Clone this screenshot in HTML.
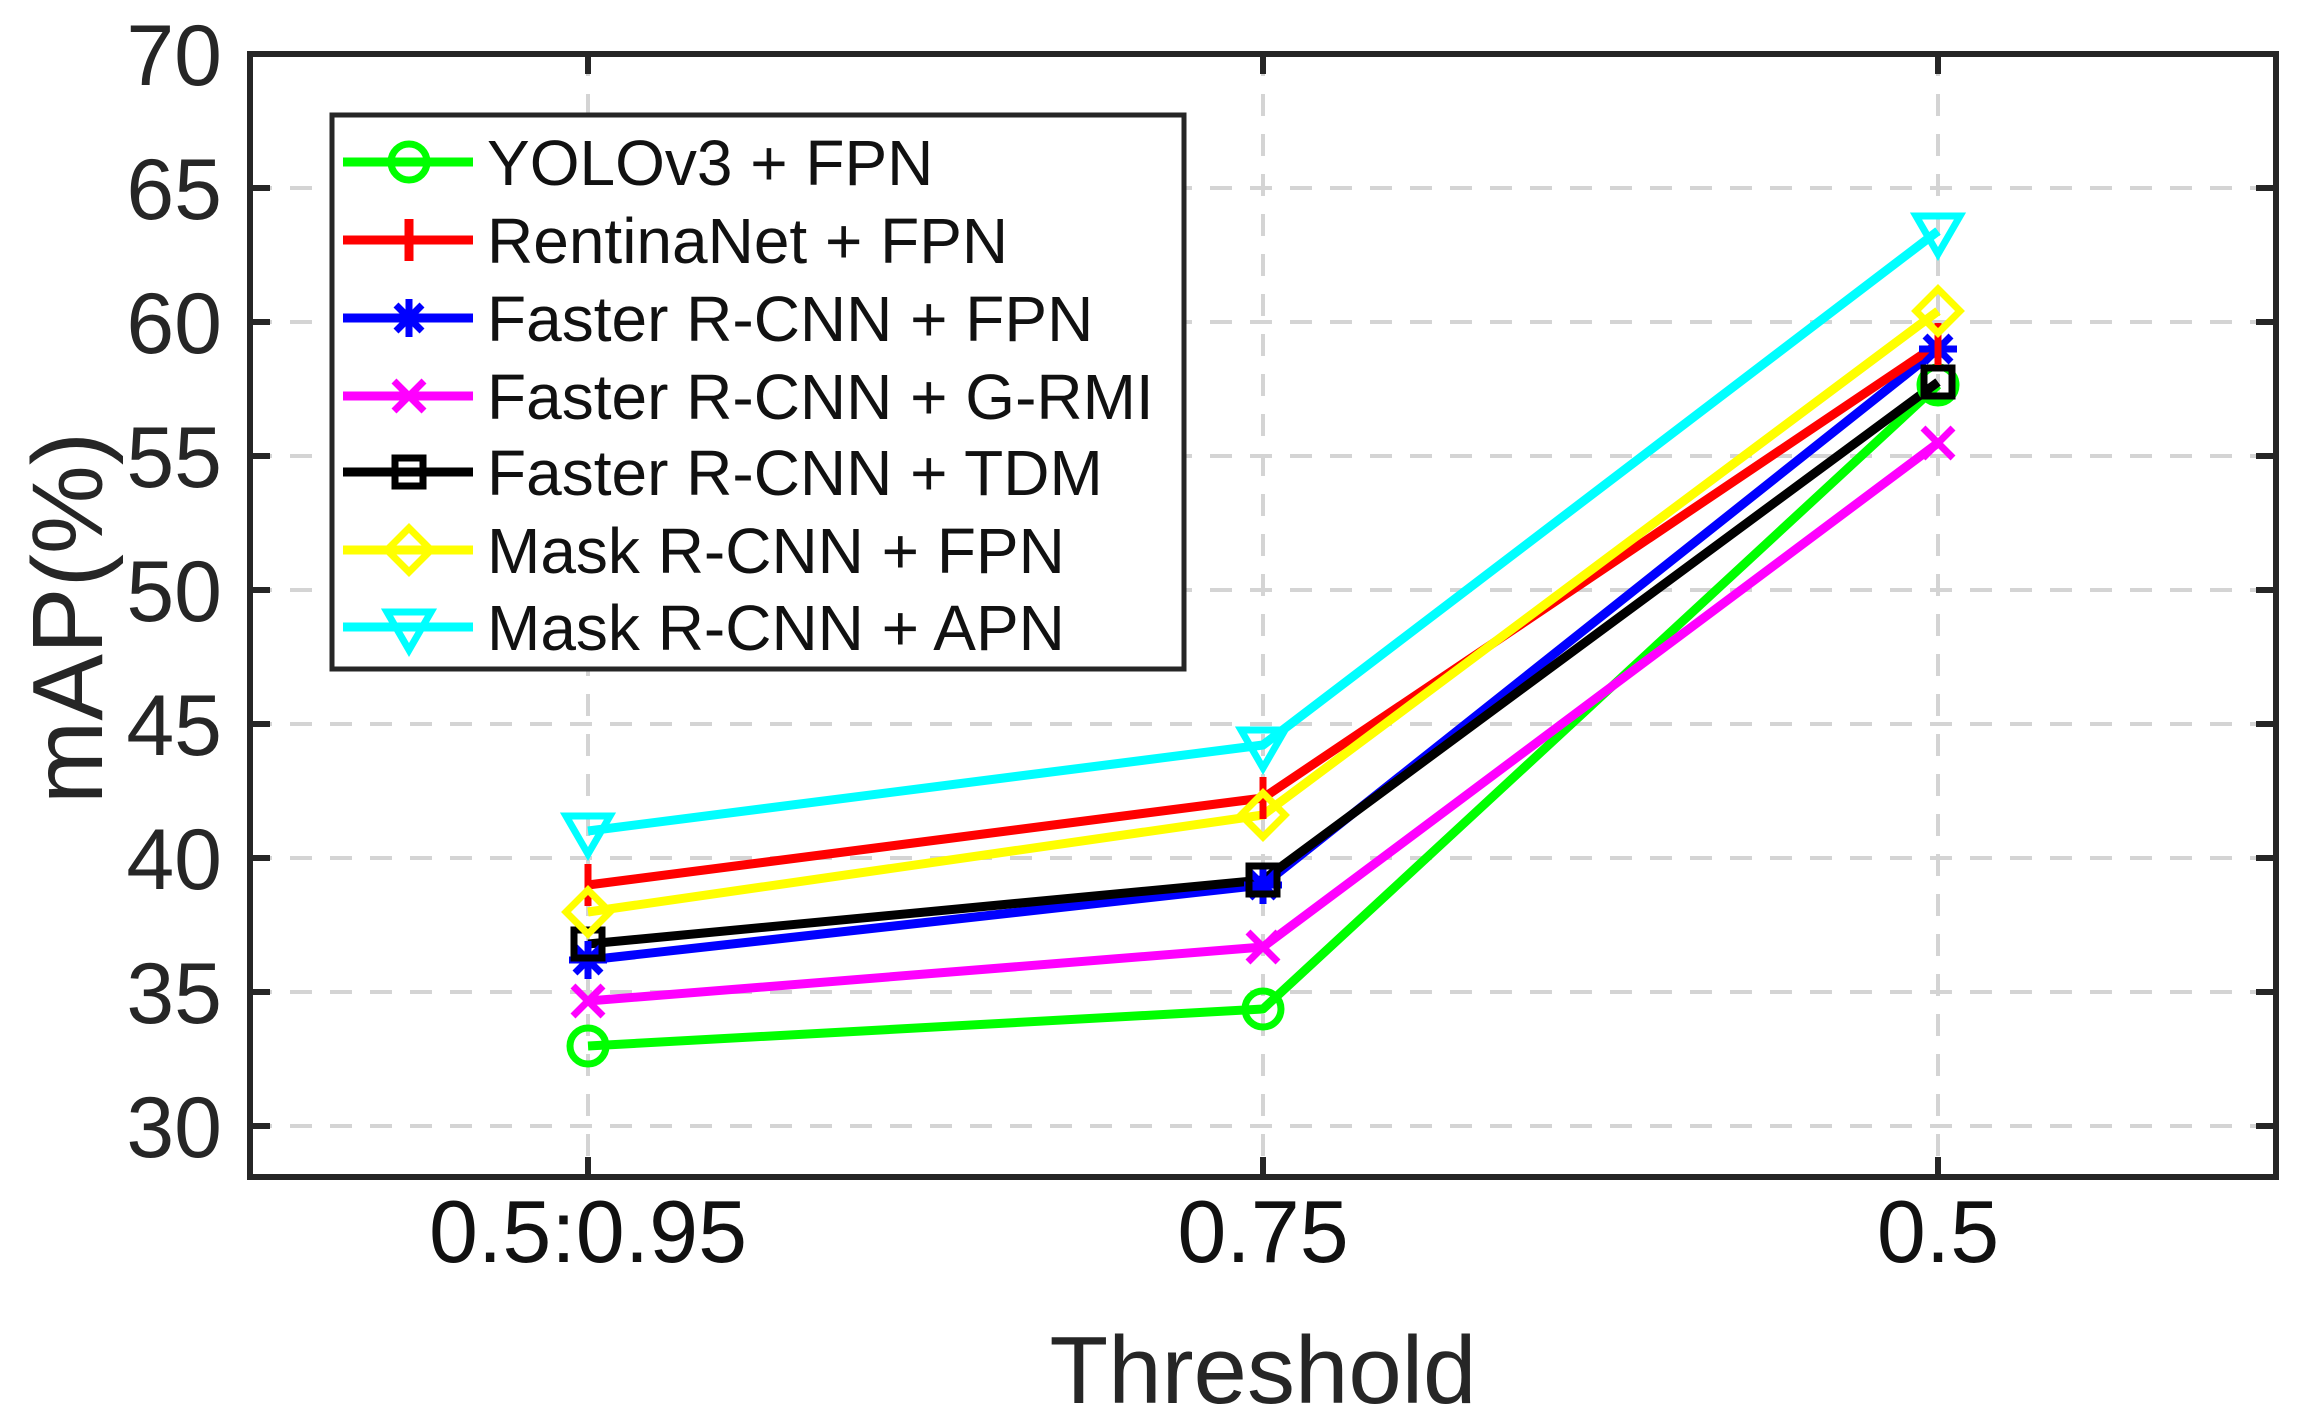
<!DOCTYPE html>
<html><head><meta charset="utf-8"><style>html,body{margin:0;padding:0;background:#fff}svg{display:block}</style></head>
<body>
<svg width="2303" height="1424" viewBox="0 0 2303 1424" xmlns="http://www.w3.org/2000/svg" font-family="Liberation Sans, Arial, sans-serif">
<defs><clipPath id="c"><rect x="250" y="54" width="2026" height="1123"/></clipPath></defs>
<g stroke="#d4d4d4" stroke-width="4" stroke-dasharray="22,18">
<line x1="250" y1="188" x2="2276" y2="188"/><line x1="250" y1="322" x2="2276" y2="322"/>
<line x1="250" y1="456" x2="2276" y2="456"/><line x1="250" y1="590" x2="2276" y2="590"/>
<line x1="250" y1="724" x2="2276" y2="724"/><line x1="250" y1="858" x2="2276" y2="858"/>
<line x1="250" y1="992" x2="2276" y2="992"/><line x1="250" y1="1126" x2="2276" y2="1126"/>
<line x1="588" y1="54" x2="588" y2="1177"/><line x1="1263" y1="54" x2="1263" y2="1177"/><line x1="1938" y1="54" x2="1938" y2="1177"/>
</g>
<g fill="none" stroke-width="9" stroke-linejoin="round" clip-path="url(#c)">
<polyline stroke="#00ff00" points="588,1046 1263,1009 1938,385"/>
<polyline stroke="#ff00ff" points="588,1001 1263,947 1938,443"/>
<polyline stroke="#0000ff" points="588,960 1263,885 1938,349"/>
<polyline stroke="#000" points="588,944 1263,880 1938,382"/>
<polyline stroke="#ff0000" points="588,885 1263,798 1938,344"/>
<polyline stroke="#ffff00" points="588,912 1263,815 1938,311"/>
<polyline stroke="#00ffff" points="588,831 1263,745 1938,231"/>
</g>
<g fill="none" stroke-width="7">
<g stroke="#00ff00"><circle cx="588" cy="1046" r="18"/><circle cx="1263" cy="1009" r="18"/><circle cx="1938" cy="385" r="18"/></g>
<g stroke="#ff00ff"><path d="M573,986l30,30M603,986l-30,30M1248,932l30,30M1278,932l-30,30M1923,428l30,30M1953,428l-30,30"/></g>
<g stroke="#0000ff"><path d="M588,941v38M569,960h38M575,947l26,26M601,947l-26,26M1263,866v38M1244,885h38M1250,872l26,26M1276,872l-26,26M1938,330v38M1919,349h38M1925,336l26,26M1951,336l-26,26"/></g>
<g stroke="#000"><rect x="574" y="930" width="28" height="28"/><rect x="1249" y="866" width="28" height="28"/><rect x="1924" y="368" width="28" height="28"/></g>
<g stroke="#ff0000"><path d="M588,864v42M1263,777v42M1938,323v42"/></g>
<g stroke="#ffff00"><path d="M588,890l22,22l-22,22l-22,-22z M1263,793l22,22l-22,22l-22,-22z M1938,289l22,22l-22,22l-22,-22z"/></g>
<g stroke="#00ffff"><path d="M566,816h44l-22,38z M1241,730h44l-22,38z M1916,216h44l-22,38z"/></g>
</g>
<rect x="250" y="54" width="2026" height="1123" fill="none" stroke="#262626" stroke-width="6"/>
<g stroke="#262626" stroke-width="6">
<path d="M250,188h20M250,322h20M250,456h20M250,590h20M250,724h20M250,858h20M250,992h20M250,1126h20"/>
<path d="M2276,188h-20M2276,322h-20M2276,456h-20M2276,590h-20M2276,724h-20M2276,858h-20M2276,992h-20M2276,1126h-20"/>
<path d="M588,1177v-20M1263,1177v-20M1938,1177v-20M588,54v20M1263,54v20M1938,54v20"/>
</g>
<g fill="#262626" font-size="86" text-anchor="end">
<text x="222" y="85">70</text><text x="222" y="219">65</text><text x="222" y="353">60</text><text x="222" y="487">55</text>
<text x="222" y="621">50</text><text x="222" y="755">45</text><text x="222" y="889">40</text><text x="222" y="1023">35</text><text x="222" y="1157">30</text>
</g>
<g fill="#111" font-size="88" text-anchor="middle">
<text x="588" y="1262">0.5:0.95</text><text x="1263" y="1262">0.75</text><text x="1938" y="1262">0.5</text>
</g>
<text x="1263" y="1403" font-size="96" fill="#262626" text-anchor="middle">Threshold</text>
<text transform="translate(102,618) rotate(-90)" font-size="100" fill="#262626" text-anchor="middle">mAP(%)</text>
<rect x="332" y="115" width="852" height="554" fill="#fff" stroke="#262626" stroke-width="5"/>
<g stroke-width="9" fill="none">
<path stroke="#00ff00" d="M343,162h130"/><circle stroke="#00ff00" stroke-width="7" cx="409" cy="162" r="18"/>
<path stroke="#ff0000" d="M343,240h130M409,219v42"/>
<path stroke="#0000ff" d="M343,318h130"/><path stroke="#0000ff" stroke-width="7" d="M409,299v38M390,318h38M396,305l26,26M422,305l-26,26"/>
<path stroke="#ff00ff" d="M343,396h130"/><path stroke="#ff00ff" stroke-width="7" d="M394,381l30,30M424,381l-30,30"/>
<path stroke="#000" d="M343,472h130"/><rect stroke="#000" stroke-width="7" x="395" y="458" width="28" height="28"/>
<path stroke="#ffff00" d="M343,550h130"/><path stroke="#ffff00" stroke-width="7" d="M409,528l22,22l-22,22l-22,-22z"/>
<path stroke="#00ffff" d="M343,627h130"/><path stroke="#00ffff" stroke-width="7" d="M387,612h44l-22,38z"/>
</g>
<g fill="#111" font-size="64">
<text x="487" y="185">YOLOv3 + FPN</text><text x="487" y="263">RentinaNet + FPN</text>
<text x="487" y="341">Faster R-CNN + FPN</text><text x="487" y="419">Faster R-CNN + G-RMI</text>
<text x="487" y="495">Faster R-CNN + TDM</text><text x="487" y="573">Mask R-CNN + FPN</text>
<text x="487" y="650">Mask R-CNN + APN</text>
</g>
</svg>
</body></html>
